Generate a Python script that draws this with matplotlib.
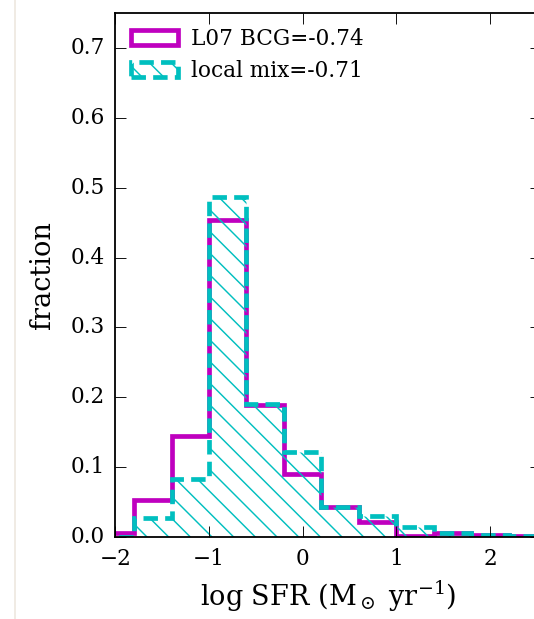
import matplotlib

matplotlib.use("Agg")
import matplotlib.pyplot as plt
from matplotlib.lines import Line2D
from matplotlib.patches import Patch

# log SFR bins (width 0.4 dex) and normalised fractions per sample
bin_edges = [-2.2, -1.8, -1.4, -1.0, -0.6, -0.2, 0.2, 0.6, 1.0, 1.4, 1.8, 2.2, 2.6]
bcg_fraction = [0.005, 0.053, 0.144, 0.453, 0.189, 0.090, 0.043, 0.021, 0.002, 0.005, 0.003, 0.002]
mix_fraction = [0.000, 0.027, 0.083, 0.486, 0.190, 0.122, 0.043, 0.030, 0.014, 0.005, 0.003, 0.002]
bcg_label = "L07 BCG=-0.74"
mix_label = "local mix=-0.71"

plt.style.use("classic")
plt.rcParams["font.family"] = ["DejaVu Serif"]
plt.rcParams["mathtext.fontset"] = "dejavuserif"
plt.rcParams["hatch.color"] = "c"
plt.rcParams["hatch.linewidth"] = 0.8

dashed = (0, (8, 4))

fig = plt.figure(figsize=(534 / 130, 619 / 130), dpi=130, facecolor="white")
ax = fig.add_axes([0.216, 0.1325, 0.798, 0.8465])

centers = [(lo + hi) / 2 for lo, hi in zip(bin_edges[:-1], bin_edges[1:])]
ax.hist(centers, bins=bin_edges, weights=bcg_fraction, histtype="step",
        color="m", lw=2.6)
ax.hist(centers, bins=bin_edges, weights=mix_fraction, histtype="step",
        color="c", lw=2.6, ls=dashed, hatch="\\\\")

ax.set_xlim(-2, 2.55)
ax.set_ylim(0, 0.75)
ax.set_xticks([-2, -1, 0, 1, 2])
ax.set_yticks([0.0, 0.1, 0.2, 0.3, 0.4, 0.5, 0.6, 0.7])
ax.tick_params(labelsize=12, length=6, direction="in", top=True, right=True, pad=6)
ax.set_xlabel(r"log SFR (M$_\odot$ yr$^{-1}$)", fontsize=15, labelpad=5)
ax.set_ylabel("fraction", fontsize=15, labelpad=8)

handles = [
    Patch(facecolor="none", edgecolor="m", lw=2.6),
    Patch(facecolor="none", edgecolor="c", lw=2.6, ls=dashed, hatch="\\\\"),
]
ax.legend(handles, [bcg_label, mix_label], loc="upper left", frameon=False,
          fontsize=12, handlelength=2.2, handletextpad=0.6, labelspacing=0.45,
          borderaxespad=0.3)

# faint page edge on the left
fig.add_artist(Line2D([15 / 534, 15 / 534], [0, 1], color="#efe9e2", lw=1.0))

fig.savefig("out.png", dpi=130, facecolor="white")
